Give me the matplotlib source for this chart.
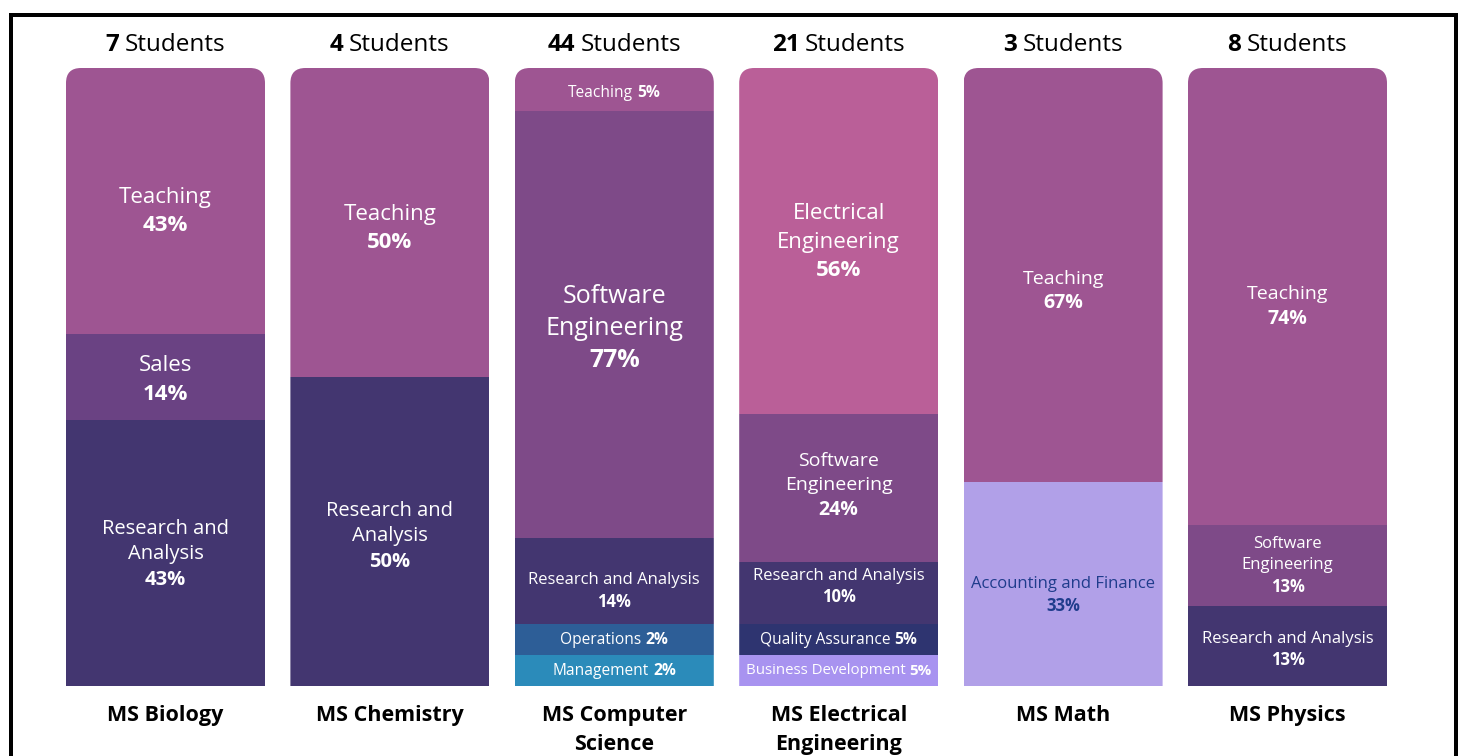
import matplotlib
matplotlib.use("Agg")
import matplotlib.pyplot as plt
from matplotlib.patches import FancyBboxPatch
from matplotlib.transforms import IdentityTransform
from matplotlib.lines import Line2D
import textwrap

FONT = "Open Sans"

# ---------------- data ----------------
majors = ["MS Biology", "MS Chemistry", "MS Computer\nScience",
          "MS Electrical\nEngineering", "MS Math", "MS Physics"]
student_counts = ["7", "4", "44", "21", "3", "8"]

# segments listed top -> bottom; share = displayed height (%), pct = label
biology_jobs = ["Teaching", "Sales", "Research and Analysis"]
biology_share = [43, 14, 43]
biology_pct = ["43%", "14%", "43%"]

chemistry_jobs = ["Teaching", "Research and Analysis"]
chemistry_share = [50, 50]
chemistry_pct = ["50%", "50%"]

cs_jobs = ["Teaching", "Software Engineering", "Research and Analysis",
           "Operations", "Management"]
cs_share = [7, 69, 14, 5, 5]
cs_pct = ["5%", "77%", "14%", "2%", "2%"]

ee_jobs = ["Electrical Engineering", "Software Engineering",
           "Research and Analysis", "Quality Assurance", "Business Development"]
ee_share = [56, 24, 10, 5, 5]
ee_pct = ["56%", "24%", "10%", "5%", "5%"]

math_jobs = ["Teaching", "Accounting and Finance"]
math_share = [67, 33]
math_pct = ["67%", "33%"]

physics_jobs = ["Teaching", "Software Engineering", "Research and Analysis"]
physics_share = [74, 13, 13]
physics_pct = ["74%", "13%", "13%"]

all_jobs = [biology_jobs, chemistry_jobs, cs_jobs, ee_jobs, math_jobs, physics_jobs]
all_share = [biology_share, chemistry_share, cs_share, ee_share, math_share, physics_share]
all_pct = [biology_pct, chemistry_pct, cs_pct, ee_pct, math_pct, physics_pct]

# ---------------- styles ----------------
colors = {
    "Teaching": "#9E5592",
    "Sales": "#6A4283",
    "Research and Analysis": "#433670",
    "Software Engineering": "#7E4A88",
    "Electrical Engineering": "#BA5F98",
    "Operations": "#2D5E97",
    "Management": "#2B8BBA",
    "Quality Assurance": "#2E3470",
    "Business Development": "#A893F0",
    "Accounting and Finance": "#B1A0E8",
}
text_colors = {"Accounting and Finance": "#1F3C8C"}

# (mode, fontsize, wrap width, vertical nudge px downward)
label_styles = [
    [("stack", 16, None, 11), ("stack", 16, None, 3), ("stack", 14.5, 12, 1)],
    [("stack", 16, None, 6), ("stack", 14.5, 12, 5)],
    [("inline", 11.2, None, 3), ("stack", 18, 12, 4), ("stack", 12, None, 10),
     ("inline", 11.2, None, 0), ("inline", 11.2, None, 0)],
    [("stack", 16, 12, 1), ("stack", 14, 12, -3), ("stack", 12, None, -7),
     ("inline", 11.2, None, 0), ("inline", 10.8, None, 0)],
    [("stack", 14, None, 16), ("stack", 12, None, 11)],
    [("stack", 14, None, 10), ("stack", 12, 12, 0), ("stack", 12, None, 4)],
]

W, H, DPI = 1464, 756, 100
fig = plt.figure(figsize=(W / DPI, H / DPI), dpi=DPI)
fig.patch.set_facecolor("white")
ax = fig.add_axes([66 / W, 70 / H, 1321 / W, 618 / H])
bw = 199 / 224.4
ax.set_xlim(-bw / 2, len(majors) - 1 + bw / 2)
ax.set_ylim(0, 100)
ax.axis("off")
renderer = fig.canvas.get_renderer()
PT = 72 / DPI


def draw_line(parts, x, y, dy_px, size, color, gapf=0.27):
    widths = []
    for s, wgt in parts:
        t = fig.text(0, 0, s, fontsize=size, fontweight=wgt, family=FONT)
        widths.append(t.get_window_extent(renderer).width)
        t.remove()
    gap = gapf * size / PT
    total = sum(widths) + gap * (len(parts) - 1)
    cur = -total / 2
    for (s, wgt), wd in zip(parts, widths):
        ax.annotate(s, xy=(x, y), xytext=(cur * PT, dy_px * PT),
                    textcoords="offset points", ha="left", va="center",
                    fontsize=size, fontweight=wgt, family=FONT, color=color,
                    annotation_clip=False)
        cur += wd + gap


for i, (jobs, shares, pcts) in enumerate(zip(all_jobs, all_share, all_pct)):
    # rounded-top clip path in display coordinates
    x0, y0 = ax.transData.transform((i - bw / 2, 0))
    x1, y1 = ax.transData.transform((i + bw / 2, 100))
    clip = FancyBboxPatch((x0, y0 - 40), x1 - x0, y1 - y0 + 40,
                          boxstyle="round,pad=0,rounding_size=15",
                          transform=IdentityTransform())
    top = 100
    for j, (job, sh, pc) in enumerate(zip(jobs, shares, pcts)):
        bottom = top - sh
        bars = ax.bar(i, sh, bottom=bottom, width=bw, color=colors[job],
                      linewidth=0)
        for b in bars:
            b.set_clip_path(clip)
        mode, fs, wrap, nudge = label_styles[i][j]
        tc = text_colors.get(job, "white")
        cy = bottom + sh / 2
        if mode == "inline":
            lines = [[(job, "normal"), (pc, "bold")]]
        else:
            names = textwrap.wrap(job, wrap) if wrap else [job]
            lines = [[(n, "normal")] for n in names] + [[(pc, "bold")]]
        lh = fs / PT * 1.27
        n = len(lines)
        for k, parts in enumerate(lines):
            dy = (n - 1) / 2 * lh - k * lh - nudge
            draw_line(parts, i, cy, dy, fs, tc)
        top = bottom

    # header
    draw_line([(student_counts[i], "bold"), ("Students", "normal")],
              i, 100, 23, 17.5, "black", gapf=0.22)
    # category label
    ax.annotate(majors[i], xy=(i, 0), xytext=(0, -19 * PT),
                textcoords="offset points", ha="center", va="top",
                fontsize=15.5, fontweight="bold", family=FONT, color="black",
                linespacing=1.5, annotation_clip=False)

# frame
fx0, fx1, fy = 10.5 / W, 1456 / W, 1 - 14.5 / H
fig.add_artist(Line2D([fx0, fx0, fx1, fx1], [-0.02, fy, fy, -0.02],
                      transform=fig.transFigure, color="black", lw=4 * PT,
                      solid_joinstyle="miter"))

fig.savefig("out.png", dpi=DPI, facecolor="white")
